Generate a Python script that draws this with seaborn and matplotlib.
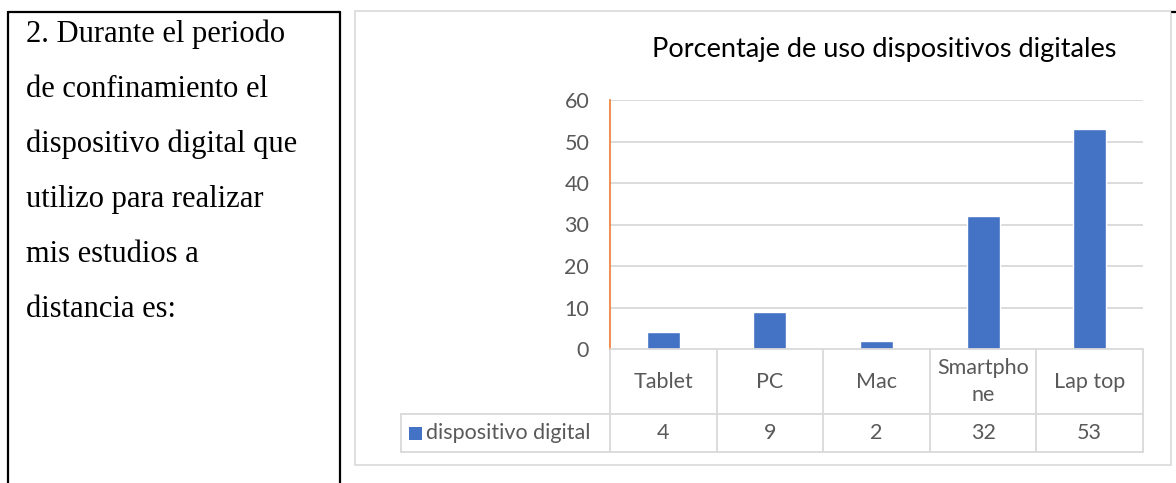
import matplotlib
matplotlib.use("Agg")
import matplotlib.pyplot as plt
import matplotlib.transforms as mtransforms
from matplotlib.lines import Line2D
from matplotlib.patches import Rectangle
import seaborn as sns
import pandas as pd

# ---------------- data ----------------
categories = ["Tablet", "PC", "Mac", "Smartphone", "Lap top"]
table_labels = ["Tablet", "PC", "Mac", "Smartpho\nne", "Lap top"]
values = [4, 9, 2, 32, 53]
series_name = "dispositivo digital"
title = "Porcentaje de uso dispositivos digitales"
y_ticks = [0, 10, 20, 30, 40, 50, 60]
question_lines = [
    "2. Durante el periodo",
    "de confinamiento el",
    "dispositivo digital que",
    "utilizo para realizar",
    "mis estudios a",
    "distancia es:",
]

df = pd.DataFrame({"categoria": categories, "valor": values})

sns.set_theme(style="white")
plt.rcParams["font.family"] = ["Lato", "DejaVu Sans"]

W, H = 1176, 483
fig = plt.figure(figsize=(W / 100, H / 100), dpi=100)
fig.patch.set_facecolor("white")


def fx(px):
    return px / W


def fy(py):
    return 1 - py / H


GRID = "#D9D9D9"
BAR = "#4472C4"
TXT = "#595959"
FS = 15.5

# --- left cell (document table) ---
for (x0, y0, x1, y1) in [(8, 12, 340, 12), (8, 12, 8, 483), (340, 12, 340, 483),
                         (1172, 12, 1176, 12)]:
    fig.add_artist(Line2D([fx(x0), fx(x1)], [fy(y0), fy(y1)], color="black",
                          lw=1.6, transform=fig.transFigure))
for i, line in enumerate(question_lines):
    fig.text(fx(26), fy(42 + 55 * i), line, family=["Liberation Serif"],
             fontsize=22, color="black", va="baseline", ha="left")

# --- chart border ---
fig.add_artist(Rectangle((fx(355), fy(465)), fx(1171) - fx(355), fy(11) - fy(465),
                         transform=fig.transFigure, fill=False, ec=GRID, lw=1.2))

# --- main axes ---
ax_left, ax_right, ax_top, ax_bottom = 610, 1143, 100, 349
ax = fig.add_axes([fx(ax_left), fy(ax_bottom), fx(ax_right) - fx(ax_left),
                   fy(ax_top) - fy(ax_bottom)])
sns.barplot(data=df, x="categoria", y="valor", color=BAR, width=0.31,
            saturation=1, ax=ax)
ax.set_xlim(-0.5, len(categories) - 0.5)
ax.set_ylim(0, 60)
ax.set_yticks(y_ticks)
ax.set_yticklabels([str(t) for t in y_ticks])
ax.set_xlabel("")
ax.set_ylabel("")
ax.set_xticks([])
ax.tick_params(axis="y", length=0, pad=15, labelsize=FS, labelcolor=TXT)
for lab in ax.get_yticklabels():
    lab.set_family(["Lato", "DejaVu Sans"])
for t in y_ticks[1:]:
    ax.axhline(t, color=GRID, lw=1.3, zorder=0)
ax.set_axisbelow(True)
for s in ["top", "right", "bottom"]:
    ax.spines[s].set_visible(False)
ax.spines["left"].set_color("#ED7D31")
ax.spines["left"].set_linewidth(1.2)
ax.set_facecolor("none")

fig.text(fx(884), fy(49), title, ha="center", va="center", fontsize=19.5,
         color="black", family=["Lato", "DejaVu Sans"])

# --- data table under the chart ---
row1_bot, row2_bot, legend_left = 414, 452, 401
tf = fig.transFigure
for (x0, x1, y) in [(ax_left, ax_right, ax_bottom), (legend_left, ax_right, row1_bot),
                    (legend_left, ax_right, row2_bot)]:
    fig.add_artist(Line2D([fx(x0), fx(x1)], [fy(y), fy(y)], color=GRID, lw=1.3,
                          transform=tf))
blend = mtransforms.blended_transform_factory(ax.transData, fig.transFigure)
for k in range(len(categories) + 1):
    xb = k - 0.5
    ax.add_artist(Line2D([xb, xb], [fy(ax_bottom), fy(row2_bot)], color=GRID, lw=1.3,
                         transform=blend, clip_on=False))
fig.add_artist(Line2D([fx(legend_left), fx(legend_left)], [fy(row1_bot), fy(row2_bot)],
                      color=GRID, lw=1.3, transform=tf))
for i, (lab, v) in enumerate(zip(table_labels, values)):
    ax.text(i, fy((ax_bottom + row1_bot) / 2), lab, transform=blend, ha="center",
            va="center", fontsize=FS, color=TXT, linespacing=1.45, clip_on=False)
    ax.text(i, fy((row1_bot + row2_bot) / 2), str(v), transform=blend, ha="center",
            va="center", fontsize=FS, color=TXT, clip_on=False)
fig.add_artist(Rectangle((fx(409), fy(440)), fx(422) - fx(409), fy(427) - fy(440),
                         transform=tf, fc=BAR, ec="none"))
fig.text(fx(426), fy((row1_bot + row2_bot) / 2), series_name, ha="left", va="center",
         fontsize=FS, color=TXT)

fig.savefig("out.png", dpi=100, facecolor="white")
